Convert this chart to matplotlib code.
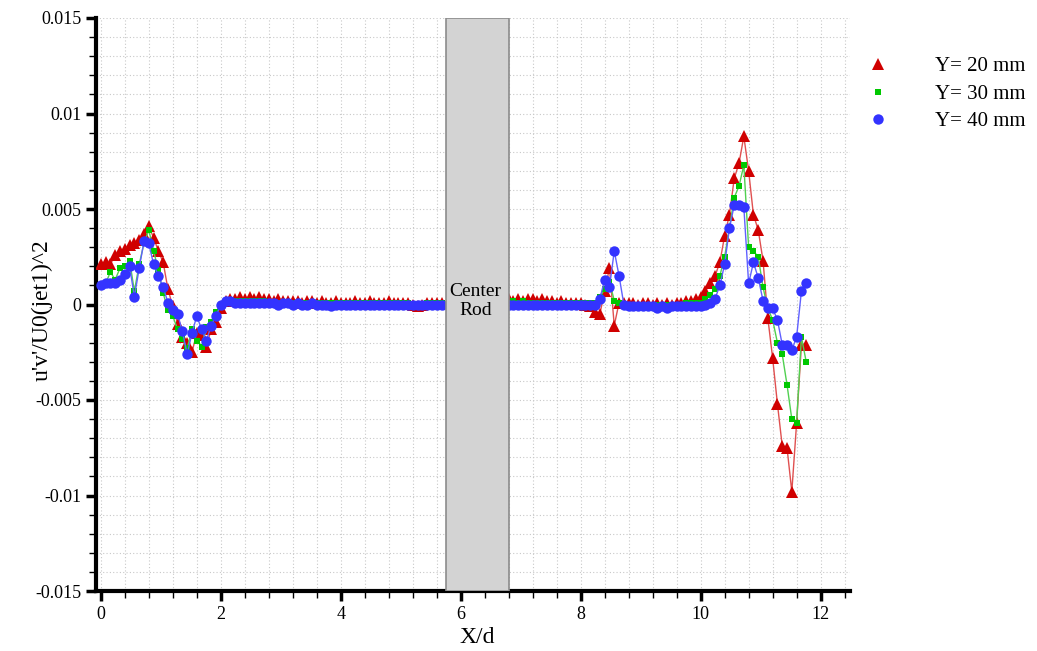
import matplotlib
matplotlib.use('Agg')
import matplotlib.pyplot as plt
import matplotlib.patches as mpatches
from matplotlib.ticker import MultipleLocator, FuncFormatter

plt.rcParams['font.family'] = ['Liberation Serif', 'DejaVu Serif']

# measurement stations, left of the rod and right of the rod
x_left = [0.00, 0.08, 0.16, 0.24, 0.32, 0.40, 0.48, 0.56,
          0.64, 0.72, 0.80, 0.88, 0.96, 1.04, 1.12, 1.20,
          1.28, 1.36, 1.44, 1.52, 1.60, 1.68, 1.76, 1.84,
          1.92, 2.00, 2.08, 2.16, 2.24, 2.32, 2.40, 2.48,
          2.56, 2.64, 2.72, 2.80, 2.88, 2.96, 3.04, 3.12,
          3.20, 3.28, 3.36, 3.44, 3.52, 3.60, 3.68, 3.76,
          3.84, 3.92, 4.00, 4.08, 4.16, 4.24, 4.32, 4.40,
          4.48, 4.56, 4.64, 4.72, 4.80, 4.88, 4.96, 5.04,
          5.12, 5.20, 5.28, 5.36, 5.44, 5.52, 5.60, 5.68]
x_right = [6.80, 6.88, 6.96, 7.04, 7.12, 7.20, 7.28, 7.36,
           7.44, 7.52, 7.60, 7.68, 7.76, 7.84, 7.92, 8.00,
           8.08, 8.16, 8.24, 8.32, 8.40, 8.48, 8.56, 8.64,
           8.72, 8.80, 8.88, 8.96, 9.04, 9.12, 9.20, 9.28,
           9.36, 9.44, 9.52, 9.60, 9.68, 9.76, 9.84, 9.92,
           10.00, 10.08, 10.16, 10.24, 10.32, 10.40, 10.48, 10.56,
           10.64, 10.72, 10.80, 10.88, 10.96, 11.04, 11.12, 11.20,
           11.28, 11.36, 11.44, 11.52, 11.60, 11.68, 11.76]

# Y = 20 mm
uv20_left = [0.0021, 0.0022, 0.0021, 0.0026, 0.0028, 0.0029, 0.0031, 0.0032,
             0.0034, 0.0037, 0.0041, 0.0035, 0.0028, 0.0022, 0.0008, -0.0001,
             -0.0010, -0.0017, -0.0020, -0.0025, -0.0015, -0.0016, -0.0022, -0.0013,
             -0.0009, -0.0002, 0.0002, 0.0003, 0.0003, 0.0004, 0.0003, 0.0004,
             0.0003, 0.0004, 0.0003, 0.0003, 0.0002, 0.0003, 0.0002, 0.0002,
             0.0002, 0.0002, 0.0001, 0.0002, 0.0002, 0.0001, 0.0002, 0.0001,
             0.0001, 0.0002, 0.0001, 0.0001, 0.0001, 0.0002, 0.0001, 0.0001,
             0.0002, 0.0001, 0.0001, 0.0001, 0.0002, 0.0001, 0.0001, 0.0001,
             0.0001, 0.0000, -0.0001, 0.0000, 0.0001, 0.0001, 0.0001, 0.0001]
uv20_right = [0.0003, 0.0002, 0.0003, 0.0002, 0.0003, 0.0003, 0.0002, 0.0003,
              0.0002, 0.0002, 0.0001, 0.0002, 0.0001, 0.0001, 0.0001, 0.0001,
              0.0000, -0.0001, -0.0004, -0.0005, 0.0007, 0.0019, -0.0011, 0.0001,
              0.0001, 0.0001, 0.0001, 0.0000, 0.0001, 0.0001, 0.0000, 0.0001,
              0.0000, 0.0001, 0.0000, 0.0001, 0.0001, 0.0002, 0.0002, 0.0003,
              0.0004, 0.0007, 0.0011, 0.0015, 0.0022, 0.0036, 0.0047, 0.0066,
              0.0074, 0.0088, 0.0070, 0.0047, 0.0039, 0.0023, -0.0007, -0.0028,
              -0.0052, -0.0074, -0.0075, -0.0098, -0.0062, -0.0021, -0.0021]

# Y = 30 mm
uv30_left = [0.0010, 0.0011, 0.0017, 0.0013, 0.0019, 0.0020, 0.0023, 0.0007,
             0.0021, 0.0032, 0.0039, 0.0028, 0.0018, 0.0006, -0.0003, -0.0006,
             -0.0013, -0.0018, -0.0023, -0.0013, -0.0019, -0.0022, -0.0012, -0.0009,
             -0.0004, 0.0000, 0.0002, 0.0002, 0.0002, 0.0002, 0.0002, 0.0002,
             0.0002, 0.0002, 0.0002, 0.0001, 0.0001, 0.0001, 0.0001, 0.0001,
             0.0001, 0.0001, 0.0001, 0.0001, 0.0001, 0.0001, 0.0001, 0.0001,
             0.0001, 0.0001, 0.0001, 0.0001, 0.0001, 0.0001, 0.0001, 0.0001,
             0.0001, 0.0001, 0.0001, 0.0001, 0.0001, 0.0001, 0.0001, 0.0001,
             0.0001, 0.0000, 0.0000, 0.0000, 0.0001, 0.0001, 0.0001, 0.0001]
uv30_right = [0.0001, 0.0002, 0.0001, 0.0002, 0.0001, 0.0001, 0.0001, 0.0001,
              0.0001, 0.0001, 0.0001, 0.0001, 0.0001, 0.0001, 0.0001, 0.0001,
              0.0001, 0.0001, 0.0001, 0.0004, 0.0008, 0.0012, 0.0002, 0.0001,
              0.0000, 0.0000, 0.0000, 0.0000, 0.0000, 0.0000, 0.0000, 0.0000,
              0.0000, 0.0000, 0.0000, 0.0000, 0.0000, 0.0001, 0.0001, 0.0001,
              0.0001, 0.0003, 0.0005, 0.0008, 0.0015, 0.0025, 0.0040, 0.0056,
              0.0062, 0.0073, 0.0030, 0.0028, 0.0025, 0.0009, -0.0002, -0.0008,
              -0.0020, -0.0026, -0.0042, -0.0060, -0.0062, -0.0017, -0.0030]

# Y = 40 mm
uv40_left = [0.0010, 0.0011, 0.0011, 0.0011, 0.0013, 0.0016, 0.0020, 0.0004,
             0.0019, 0.0033, 0.0032, 0.0021, 0.0015, 0.0009, 0.0001, -0.0003,
             -0.0005, -0.0014, -0.0026, -0.0015, -0.0006, -0.0013, -0.0019, -0.0011,
             -0.0006, 0.0000, 0.0002, 0.0002, 0.0001, 0.0001, 0.0001, 0.0001,
             0.0001, 0.0001, 0.0001, 0.0001, 0.0001, 0.0000, 0.0001, 0.0001,
             0.0000, 0.0001, 0.0000, 0.0000, 0.0001, 0.0000, 0.0000, 0.0000,
             -0.0001, 0.0000, 0.0000, 0.0000, 0.0000, 0.0000, 0.0000, 0.0000,
             0.0000, 0.0000, 0.0000, 0.0000, 0.0000, 0.0000, 0.0000, 0.0000,
             0.0000, 0.0000, 0.0000, 0.0000, 0.0000, 0.0000, 0.0000, 0.0000]
uv40_right = [0.0000, 0.0000, 0.0000, 0.0000, 0.0000, 0.0000, 0.0000, 0.0000,
              0.0000, 0.0000, 0.0000, 0.0000, 0.0000, 0.0000, 0.0000, 0.0000,
              0.0000, 0.0000, 0.0000, 0.0003, 0.0013, 0.0009, 0.0028, 0.0015,
              0.0000, -0.0001, -0.0001, -0.0001, -0.0001, -0.0001, -0.0001, -0.0002,
              -0.0001, -0.0002, -0.0001, -0.0001, -0.0001, -0.0001, -0.0001, -0.0001,
              -0.0001, 0.0000, 0.0001, 0.0003, 0.0010, 0.0021, 0.0040, 0.0052,
              0.0052, 0.0051, 0.0011, 0.0022, 0.0014, 0.0002, -0.0002, -0.0002,
              -0.0008, -0.0021, -0.0021, -0.0024, -0.0017, 0.0007, 0.0011]

labels = ['Y= 20 mm', 'Y= 30 mm', 'Y= 40 mm']
rod_x = (5.755, 6.805)

x = x_left + x_right
fig = plt.figure(figsize=(10.37, 6.51), dpi=100)
ax = fig.add_axes([96 / 1037, 60 / 651, (850 - 96) / 1037, (591 - 18) / 651])

# line colour is a lighter tint of the marker colour
ax.plot(x, uv20_left + uv20_right, '-', color='#e05050', lw=1, zorder=3)
ax.plot(x, uv20_left + uv20_right, '^', color='#d00000', ms=8, mew=0, zorder=3, label=labels[0])
ax.plot(x, uv30_left + uv30_right, '-', color='#50d050', lw=1, zorder=4)
ax.plot(x, uv30_left + uv30_right, 's', color='#00c800', ms=5, mew=0, zorder=4, label=labels[1])
ax.plot(x, uv40_left + uv40_right, '-', color='#6060ff', lw=1, zorder=5)
ax.plot(x, uv40_left + uv40_right, 'o', color='#3333ff', ms=7.5, mew=0, zorder=5, label=labels[2])

# the center rod covers the region between the two measurement windows
rod = mpatches.Rectangle((rod_x[0], -0.015), rod_x[1] - rod_x[0], 0.03,
                         facecolor='#d3d3d3', edgecolor='#8c8c8c', lw=1.2, zorder=6)
ax.add_patch(rod)
ax.text(sum(rod_x) / 2 - 0.03, 0.0002, 'Center\nRod', ha='center', va='center',
        multialignment='center', fontsize=14, linespacing=1.15, zorder=7)

ax.set_xlim(-0.08, 12.49)
ax.set_ylim(-0.015, 0.015)
ax.xaxis.set_major_locator(MultipleLocator(2))
ax.xaxis.set_minor_locator(MultipleLocator(0.4))
ax.yaxis.set_major_locator(MultipleLocator(0.005))
ax.yaxis.set_minor_locator(MultipleLocator(0.001))
ax.yaxis.set_major_formatter(FuncFormatter(lambda v, p: '0' if abs(v) < 1e-9 else '%g' % v))
ax.xaxis.set_major_formatter(FuncFormatter(lambda v, p: '%g' % v))

ax.grid(which='both', color='#c8c8c8', linestyle=(0, (1, 2)), lw=0.8, zorder=0)
ax.set_axisbelow(True)
for side in ['top', 'right']:
    ax.spines[side].set_visible(False)
for side in ['left', 'bottom']:
    ax.spines[side].set_linewidth(3)
ax.tick_params(which='major', direction='out', length=7, width=2.5, labelsize=13)
ax.tick_params(which='minor', direction='out', length=5, width=1)

ax.set_xlabel('X/d', fontsize=17)
ax.xaxis.set_label_coords(0.505, -0.063)
ax.set_ylabel("u'v'/U0(jet1)^2", fontsize=17)
ax.yaxis.set_label_coords(-0.057, 0.49)

fig.legend(loc='upper left', bbox_to_anchor=(849 / 1037, 1 - 38 / 651), frameon=False,
           fontsize=15, handlelength=1.0, handletextpad=2.25, labelspacing=0.38,
           markerscale=1.0)

fig.savefig('out.png', dpi=100)
